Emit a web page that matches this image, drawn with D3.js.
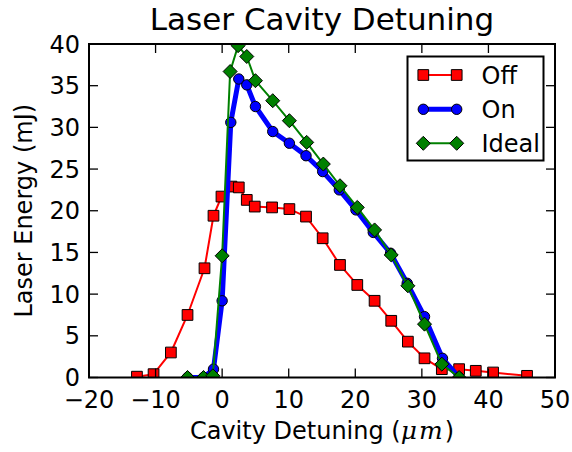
<!DOCTYPE html>
<html><head><meta charset="utf-8">
<script src="https://cdn.jsdelivr.net/npm/d3@7"></script>
<style>body{margin:0;background:#fff}svg{display:block}text{font-family:"DejaVu Sans",sans-serif}</style>
</head><body><svg id="c" width="572" height="452"></svg>
<script>
const offX = [-12.8,-10.3,-7.7,-5.2,-2.65,-1.3,-0.1,1.4,2.5,3.7,4.9,7.5,10.1,12.6,15.1,17.7,20.3,22.9,25.4,27.9,30.4,33.0,35.6,38.1,40.7,45.8];
const offY = [0.1,0.4,3.0,7.5,13.1,19.4,21.7,22.9,22.8,21.3,20.5,20.4,20.2,19.3,16.7,13.5,11.1,9.2,6.8,4.3,2.3,1.0,1.0,0.8,0.6,0.2];
const onX = [-5.2,-2.8,-1.3,0,1.3,2.5,3.7,5.0,7.6,10.1,12.6,15.1,17.6,20.1,22.7,25.3,27.8,30.4,33.1,35.6];
const onY = [0,0,1.0,9.2,30.6,35.8,35.1,32.5,29.5,28.1,26.6,24.7,22.5,20.1,17.4,14.9,11.3,7.3,2.3,0];
const idealX = [-5.2,-2.8,-1.4,0,1.2,2.4,3.7,5.0,7.6,10.1,12.7,15.2,17.7,20.3,22.9,25.4,27.9,30.4,33.0,35.6];
const idealY = [0,0,0.2,14.6,36.7,39.8,38.5,35.6,33.2,30.8,28.2,25.6,23.0,20.4,17.7,14.7,11.0,6.4,1.6,0];
const xTicks = [-20,-10,0,10,20,30,40,50];
const yTicks = [0,5,10,15,20,25,30,35,40];
const seriesNames = ["Off","On","Ideal"];

const svg = d3.select("#c");
const L=89, R=555, T=44, B=377.5;
const x = d3.scaleLinear().domain([-20,50]).range([L,R]);
const y = d3.scaleLinear().domain([0,40]).range([B,T]);

svg.append("defs").append("clipPath").attr("id","clip")
  .append("rect").attr("x",L).attr("y",T).attr("width",R-L).attr("height",B-T);

const series = [
  {name:seriesNames[0], xs:offX, ys:offY, color:"#ff0000", lw:2, marker:"square"},
  {name:seriesNames[1], xs:onX, ys:onY, color:"#0000ff", lw:5, marker:"circle"},
  {name:seriesNames[2], xs:idealX, ys:idealY, color:"#008000", lw:2, marker:"diamond"}
];
const symbols = {
  square: d3.symbol().type(d3.symbolSquare).size(115),
  circle: d3.symbol().type(d3.symbolCircle).size(85),
  diamond: d3.symbol().type(d3.symbolDiamond2).size(125)
};
function drawMarker(g, s, px, py){
  return g.append("path").attr("d", symbols[s.marker]())
    .attr("transform", `translate(${px},${py})`)
    .attr("fill", s.color).attr("stroke","#000").attr("stroke-width",1);
}

const plot = svg.append("g").attr("clip-path","url(#clip)");
const line = d3.line().x(d=>x(d[0])).y(d=>y(d[1]));
series.forEach(s=>{
  const pts = s.xs.map((v,i)=>[v,s.ys[i]]);
  const g = plot.append("g");
  g.append("path").attr("d", line(pts)).attr("fill","none")
    .attr("stroke", s.color).attr("stroke-width", s.lw).attr("stroke-linejoin","round");
  pts.forEach(p=>drawMarker(g, s, x(p[0]), y(p[1])));
});

// frame
svg.append("rect").attr("x",L).attr("y",T).attr("width",R-L).attr("height",B-T)
  .attr("fill","none").attr("stroke","#000").attr("stroke-width",2);

// ticks (inward, all four sides)
const tk = 9;
const axg = svg.append("g").attr("stroke","#000").attr("stroke-width",1.3);
xTicks.forEach(t=>{
  const px = x(t);
  axg.append("line").attr("x1",px).attr("x2",px).attr("y1",B).attr("y2",B-tk);
  axg.append("line").attr("x1",px).attr("x2",px).attr("y1",T).attr("y2",T+tk);
  svg.append("text").attr("x",px).attr("y",408).attr("text-anchor","middle")
    .attr("font-size",24).text(t<0 ? "\u2212"+Math.abs(t) : t);
});
yTicks.forEach(t=>{
  const py = y(t);
  axg.append("line").attr("x1",L).attr("x2",L+tk).attr("y1",py).attr("y2",py);
  axg.append("line").attr("x1",R).attr("x2",R-tk).attr("y1",py).attr("y2",py);
  svg.append("text").attr("x",80).attr("y",py).attr("dy","0.36em").attr("text-anchor","end")
    .attr("font-size",24).text(t);
});

// title & labels
svg.append("text").attr("x",(L+R)/2).attr("y",30).attr("text-anchor","middle")
  .attr("font-size",31).text("Laser Cavity Detuning");
const xl = svg.append("text").attr("x",(L+R)/2).attr("y",439).attr("text-anchor","middle").attr("font-size",24);
xl.append("tspan").text("Cavity Detuning (");
xl.append("tspan").attr("font-style","italic").attr("font-family","'DejaVu Serif',serif")
  .attr("font-size",25).attr("letter-spacing",2).text("\u03bcm");
xl.append("tspan").text(")");
svg.append("text").attr("transform",`translate(32,${(T+B)/2}) rotate(-90)`).attr("text-anchor","middle")
  .attr("font-size",24).text("Laser Energy (mJ)");

// legend
const lg = svg.append("g");
lg.append("rect").attr("x",407.5).attr("y",56.5).attr("width",136).attr("height",104)
  .attr("fill","#fff").attr("stroke","#000").attr("stroke-width",2);
const rowY = [75,109.3,143.3];
series.forEach((s,i)=>{
  const yy = rowY[i];
  lg.append("line").attr("x1",423.3).attr("x2",456.7).attr("y1",yy).attr("y2",yy)
    .attr("stroke",s.color).attr("stroke-width",s.lw);
  drawMarker(lg, s, 423.3, yy);
  drawMarker(lg, s, 456.7, yy);
  lg.append("text").attr("x",481.5).attr("y",yy).attr("dy","0.36em").attr("font-size",24).text(s.name);
});
</script></body></html>
